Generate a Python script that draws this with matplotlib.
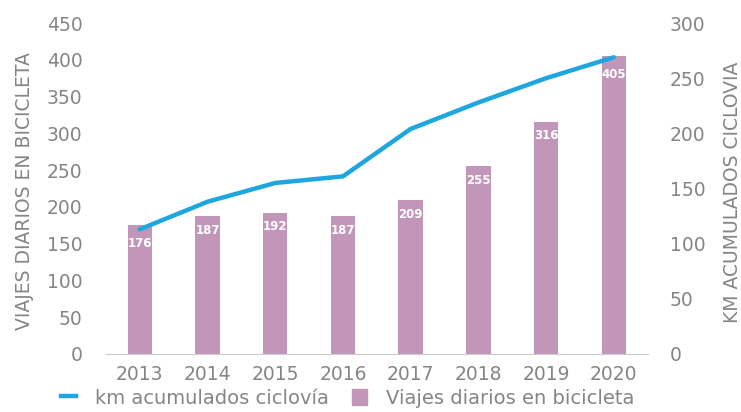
import matplotlib.pyplot as plt
from matplotlib.lines import Line2D
from matplotlib.patches import Patch

years = ["2013", "2014", "2015", "2016", "2017", "2018", "2019", "2020"]
viajes = [176, 187, 192, 187, 209, 255, 316, 405]
km_ciclovia = [113, 138, 155, 161, 204, 228, 250, 269]

bar_color = "#c196b8"
line_color = "#1ea7de"
text_color = "#858585"

plt.rcParams['font.family'] = ['DejaVu Sans']

fig = plt.figure(figsize=(7.41, 4.12), dpi=100)
ax = fig.add_axes([0.143, 0.141, 0.731, 0.803])
x = list(range(len(years)))
bars = ax.bar(x, viajes, width=0.36, color=bar_color, zorder=1)
ax.set_xlim(-0.5, 7.5)
ax.set_ylim(0, 450)
ax.set_yticks(range(0, 451, 50))
ax.set_xticks(x)
ax.set_xticklabels(years)
for s in ["top", "right", "left"]:
   ax.spines[s].set_visible(False)
ax.spines["bottom"].set_color("#cccccc")
ax.tick_params(axis="y", length=0, pad=17, labelsize=13.5, labelcolor=text_color)
ax.tick_params(axis="x", length=0, pad=8, labelsize=13.5, labelcolor=text_color)

# etiquetas dentro de las barras
for i, (b, v) in enumerate(zip(bars, viajes)):
   off = -13.5 if i in (0, len(viajes) - 1) else -10
   ax.annotate(str(v), (b.get_x() + b.get_width() / 2, v), xytext=(0, off),
               textcoords="offset points", ha="center", va="center",
               color="white", fontsize=8.5, fontweight="bold", zorder=3)

ax2 = ax.twinx()
ax2.plot(x, km_ciclovia, color=line_color, lw=3.2, solid_capstyle="round", zorder=2)
ax2.set_ylim(0, 300)
ax2.set_yticks(range(0, 301, 50))
for s in ["top", "right", "left", "bottom"]:
   ax2.spines[s].set_visible(False)
ax2.tick_params(axis="y", length=0, pad=16, labelsize=13.5, labelcolor=text_color)

fig.text(25 / 741, 1 - 191 / 412, "VIAJES DIARIOS EN BICICLETA", rotation=90,
         ha="center", va="center", color=text_color, fontsize=13.5)
fig.text(733 / 741, 1 - 192 / 412, "KM ACUMULADOS CICLOVIA", rotation=90,
         ha="center", va="center", color=text_color, fontsize=13.5)

handles = [Line2D([0], [0], color=line_color, lw=3.2),
           Patch(color=bar_color)]
fig.legend(handles, ["km acumulados ciclovía", "Viajes diarios en bicicleta"],
           loc="center", bbox_to_anchor=(348 / 741, 1 - 398 / 412), ncol=2, frameon=False,
           fontsize=14, labelcolor=text_color, handlelength=0.75,
           handleheight=0.9, handletextpad=1.0, columnspacing=1.2,
           borderpad=0.2)

plt.savefig("out.png", dpi=100)
